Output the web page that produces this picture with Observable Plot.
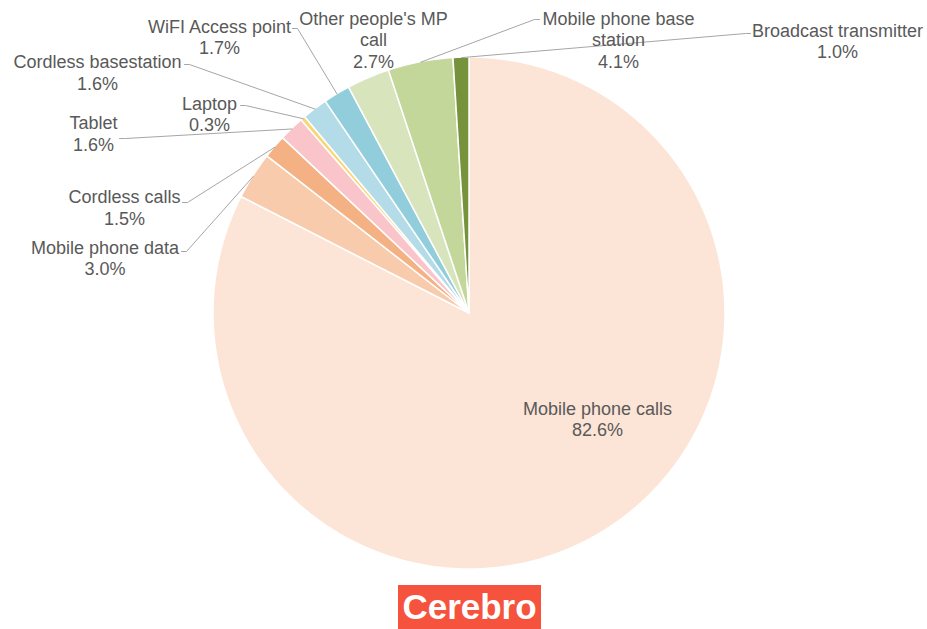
<!DOCTYPE html>
<html><head><meta charset="utf-8">
<script src="https://cdn.jsdelivr.net/npm/d3@7"></script>
<script src="https://cdn.jsdelivr.net/npm/@observablehq/plot@0.6"></script>
<style>
body{margin:0;background:#fff;font-family:"Liberation Sans",Arial,sans-serif;}
#chart svg{display:block;}
#caption{text-align:center;margin-top:5px;height:44px;}
#caption span{display:inline-block;position:relative;left:6px;background:#F5533D;color:#fff;font-weight:bold;font-size:35px;padding:0 4px;line-height:44px;}
</style></head><body>
<div id="chart"></div>
<div id="caption"><span>Cerebro</span></div>
<script>
// ---- data ----
const categories = ["Mobile phone calls","Mobile phone data","Cordless calls","Tablet","Laptop","Cordless basestation","WiFI Access point","Other people's MP call","Mobile phone base station","Broadcast transmitter"];
const shares = [82.6, 3.0, 1.5, 1.6, 0.3, 1.6, 1.7, 2.7, 4.1, 1.0];
const labelNames = ["Mobile phone calls","Mobile phone data","Cordless calls","Tablet","Laptop","Cordless basestation","WiFI Access point","Other people's MP\ncall","Mobile phone base\nstation","Broadcast transmitter"];
const palette = ["#FCE4D6","#F8CBAD","#F4B183","#F9C5CB","#F7D774","#B4DCE8","#92CDDC","#D8E4BC","#C4D79B","#76933C"];

// ---- layout (pixels) ----
const W = 927, H = 580, cx = 469, cy = 313, R = 256;
const labelPos = [[597,418],[104.5,257],[124,206.5],[93,132.5],[209,113],[97,71.5],[219,36],[373,39],[618,39],[837,40]];
// leader: [elbowX, elbowY, endX, endY] or null
const leaders = [null,[186,251,181,251],[187,202,182,202],[125,138,119,138],[245,105,240,105],[189,64,184,64],[297,28,292,28],null,[534,19,539,19],[745,33,750,33]];

const total = d3.sum(shares);
let acc = 0;
const slices = categories.map((c, i) => {
  const a0 = acc / total * 2 * Math.PI; acc += shares[i];
  const a1 = acc / total * 2 * Math.PI;
  return {c, i, a0, a1, am: (a0 + a1) / 2};
});
const pt = a => [cx + R * Math.sin(a), cy - R * Math.cos(a)];
const arcPts = slices.flatMap(s => {
  const n = Math.max(2, Math.ceil((s.a1 - s.a0) / (Math.PI / 360)));
  return d3.range(n + 1).map(k => { const [x, y] = pt(s.a0 + (s.a1 - s.a0) * k / n); return {c: s.c, x, y}; });
});
const labels = slices.map((s, i) => ({c: s.c, x: labelPos[i][0], y: labelPos[i][1], text: labelNames[i] + "\n" + shares[i].toFixed(1) + "%"}));
const leaderPts = slices.flatMap((s, i) => {
  const L = leaders[i]; if (!L) return [];
  const [x0, y0] = pt(s.am);
  return [{c: s.c, x: x0, y: y0}, {c: s.c, x: L[0], y: L[1]}, {c: s.c, x: L[2], y: L[3]}];
});

const chart = Plot.plot({
  width: W, height: H, margin: 0,
  x: {domain: [0, W], range: [0, W], axis: null},
  y: {domain: [0, H], range: [0, H], axis: null},
  color: {domain: categories, range: palette},
  style: {fontFamily: "'Liberation Sans', Arial, sans-serif", background: "white"},
  marks: [
    Plot.area(arcPts, {x1: d => cx, y1: d => cy, x2: "x", y2: "y", z: "c", fill: "c", stroke: "white", strokeWidth: 1.5}),
    Plot.line(leaderPts, {x: "x", y: "y", z: "c", stroke: "#A6A6A6", strokeWidth: 1}),
    Plot.text(labels, {x: "x", y: "y", text: "text", fontSize: 18, fill: "#595959", lineHeight: 1.2})
  ]
});
document.getElementById("chart").appendChild(chart);
</script>
</body></html>
